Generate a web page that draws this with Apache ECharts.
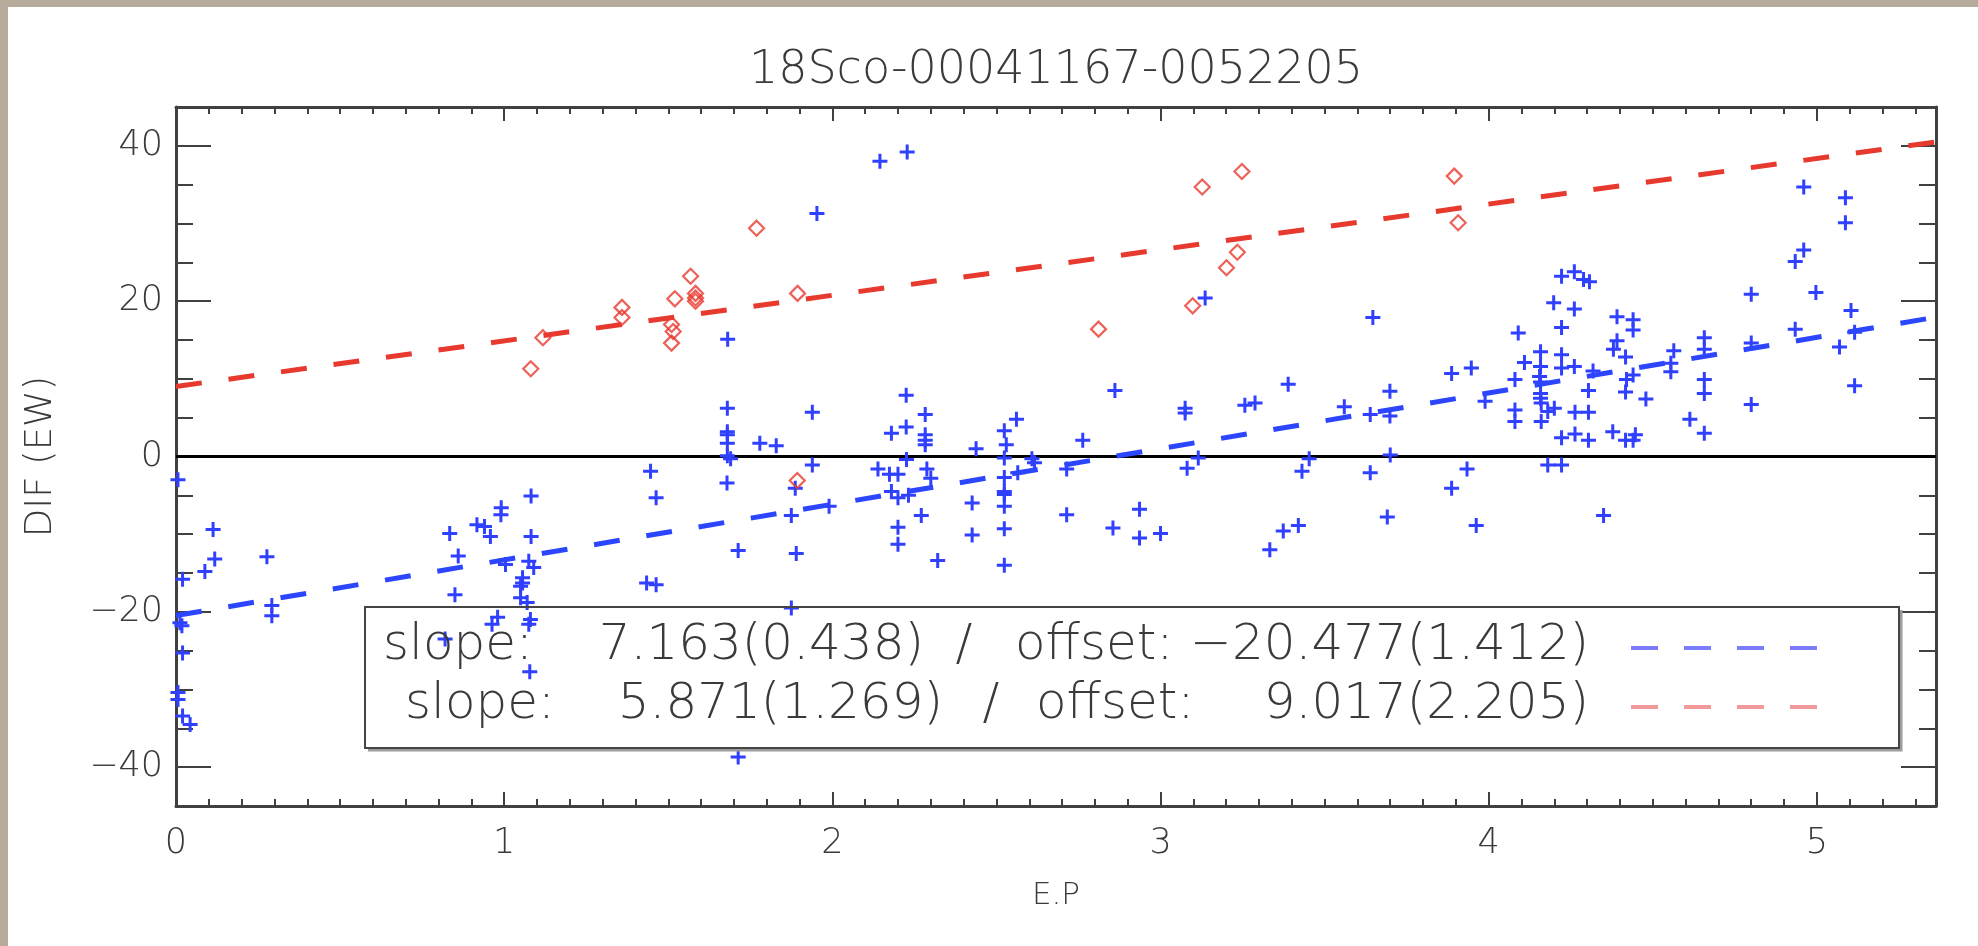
<!DOCTYPE html>
<html>
<head>
<meta charset="utf-8">
<title>18Sco-00041167-0052205</title>
<script src="https://cdn.jsdelivr.net/npm/echarts@6/dist/echarts.min.js"></script>
<style>
  html, body { margin: 0; padding: 0; width: 1978px; height: 946px; overflow: hidden; background: #b7ab9b; }
  #panel { position: absolute; left: 8px; top: 7px; right: 0; bottom: 0; background: #ffffff; }
  #chart { position: absolute; left: 0; top: 0; width: 1978px; height: 946px; }
</style>
</head>
<body>
<div id="panel"></div>
<div id="chart"></div>
<script>
// ---- data -------------------------------------------------------------
const chartTitle = '18Sco-00041167-0052205';
const xName = 'E.P';
const yName = 'DIF (EW)';

const xTicks = [0, 1, 2, 3, 4, 5];
const yTicks = [-40, -20, 0, 20, 40];

// first group (blue crosses): [E.P, DIF]
const bluePoints = [
  [0.006, -3.0], [0.113, -9.4], [0.118, -13.2], [0.088, -14.8], [0.02, -15.8],
  [0.277, -12.9], [0.292, -19.2], [0.292, -20.5], [0.012, -21.4], [0.018, -21.8],
  [0.02, -25.3], [0.006, -30.4], [0.006, -31.3], [0.02, -33.4], [0.043, -34.5],
  [0.834, -9.9], [0.86, -12.8], [0.85, -17.8], [0.82, -23.5], [0.917, -8.8],
  [0.94, -9.0], [0.958, -10.3], [0.991, -6.6], [0.99, -7.5], [1.082, -5.1],
  [1.082, -10.3], [1.004, -13.9], [1.075, -13.5], [1.09, -14.3], [1.056, -15.6],
  [1.056, -16.3], [1.05, -16.7], [1.05, -18.2], [1.07, -18.8], [0.98, -20.7],
  [0.963, -21.6], [1.08, -21.0], [1.075, -21.6], [1.078, -27.7], [1.446, -1.9],
  [1.463, -5.3], [1.434, -16.3], [1.463, -16.5], [1.679, -3.4], [1.713, -12.1],
  [1.713, -38.7],
  [1.681, 15.1], [1.68, 6.2], [1.68, 3.2], [1.68, 2.8], [1.68, 1.7], [1.68, 0.1],
  [1.69, -0.3], [1.779, 1.7],
  [2.145, 38.0], [2.228, 39.2], [1.953, 31.3], [3.136, 20.4], [2.225, 7.9],
  [1.939, 5.7], [2.283, 5.4], [2.225, 3.8], [2.18, 3.0], [2.283, 2.8], [2.283, 2.1],
  [2.283, 1.5], [1.829, 1.4], [2.438, 1.0], [2.524, 3.3], [2.53, 1.5], [2.561, 4.8],
  [2.763, 2.1], [2.861, 8.5], [3.075, 6.2], [3.075, 5.6], [3.257, 6.6], [3.288, 6.9],
  [3.389, 9.3], [3.56, 6.4],
  [1.939, -1.1], [1.887, -4.1], [1.875, -7.6], [1.89, -12.5], [1.875, -19.5],
  [1.99, -6.4], [2.139, -1.6], [2.174, -2.3], [2.2, -2.3], [2.226, -0.4],
  [2.288, -1.6], [2.30, -2.8], [2.18, -4.5], [2.2, -5.3], [2.232, -5.0],
  [2.271, -7.6], [2.2, -9.1], [2.2, -11.3], [2.321, -13.4], [2.426, -6.0],
  [2.426, -10.1], [2.524, -0.2], [2.524, -2.7], [2.524, -4.5], [2.524, -4.9],
  [2.524, -6.4], [2.524, -9.3], [2.524, -14.0], [2.565, -2.1], [2.608, -0.3],
  [2.616, -0.8], [2.714, -1.6], [2.714, -7.5], [2.855, -9.2], [2.936, -6.8],
  [2.936, -10.5], [3.0, -9.9], [3.081, -1.5], [3.115, -0.2], [3.333, -12.0],
  [3.374, -9.6], [3.42, -8.9], [3.431, -1.9], [3.453, -0.3],
  [3.639, -2.1], [3.70, 0.2], [3.691, -7.8], [3.887, -4.1], [3.934, -1.6],
  [3.962, -8.9], [4.18, -1.1], [4.222, -1.1], [4.35, -7.6],
  [4.96, 34.7], [5.087, 33.3], [5.087, 30.1], [4.96, 26.6], [4.934, 25.1],
  [4.80, 20.9], [4.997, 21.1], [5.104, 18.8], [4.934, 16.4], [5.115, 16.0],
  [5.069, 14.1], [5.115, 9.1], [4.80, 14.6], [4.80, 6.7], [4.657, 15.3],
  [4.657, 13.8], [4.657, 9.9], [4.657, 8.1], [4.657, 3.0], [4.613, 4.8],
  [4.564, 13.6], [4.555, 12.0], [4.555, 10.9], [4.479, 7.4], [4.44, 17.6],
  [4.44, 16.3], [4.391, 18.0], [4.391, 14.9], [4.38, 13.8], [4.417, 12.8],
  [4.44, 10.5], [4.42, 9.9], [4.417, 8.3], [4.378, 3.2], [4.417, 2.1],
  [4.44, 2.1], [4.447, 2.8], [4.318, 11.0], [4.304, 8.5], [4.304, 5.7],
  [4.304, 2.1], [4.263, 5.7], [4.263, 2.9], [4.222, 2.4], [4.20, 6.2],
  [4.18, 5.8], [4.222, 23.2], [4.261, 23.8], [4.289, 22.8], [4.307, 22.5],
  [4.198, 19.8], [4.261, 19.0], [4.222, 16.6], [4.222, 13.1], [4.222, 11.4],
  [4.261, 11.6], [4.158, 13.5], [4.158, 11.6], [4.155, 10.3], [4.158, 9.6],
  [4.158, 8.1], [4.158, 7.5], [4.16, 6.9], [4.16, 4.5], [4.109, 12.1],
  [4.08, 9.9], [4.08, 6.0], [4.08, 4.5], [4.09, 15.9], [3.989, 7.1],
  [3.947, 11.4], [3.887, 10.7], [3.699, 8.4], [3.699, 5.2], [3.639, 5.4],
  [3.647, 17.9]
];

// second group (red diamonds): [E.P, DIF]
const redPoints = [
  [1.081, 11.3], [1.118, 15.3], [1.359, 19.2], [1.359, 17.9], [1.51, 17.0],
  [1.515, 16.1], [1.51, 14.6], [1.52, 20.3], [1.568, 23.2], [1.583, 21.0],
  [1.583, 20.4], [1.583, 20.0], [1.769, 29.4], [1.894, 21.0], [1.893, -3.1],
  [2.811, 16.4], [3.098, 19.4], [3.127, 34.7], [3.201, 24.3], [3.234, 26.3],
  [3.248, 36.7], [3.895, 36.1], [3.907, 30.1]
];

// linear fits: [blue, red]
const fitSlopes = [7.163, 5.871];
const fitSlopeErrs = [0.438, 1.269];
const fitOffsets = [-20.477, 9.017];
const fitOffsetErrs = [1.412, 2.205];

// ---- styling ----------------------------------------------------------
const FONT = 'DejaVu Sans';
const WEIGHT = 200;
const INK = '#3a3a3a';
const FRAME = '#404040';
const BLUE = '#3040ff';
const BLUE_FIT = '#2c46ff';
const RED = '#e8392e';
const X_MIN = 0, X_MAX = 5.363, Y_MIN = -45, Y_MAX = 45;
const CROSS = 'path://M6,0H9V6H15V9H9V15H6V9H0V6H6Z';

const minusFmt = v => (v < 0 ? '\u2212' + Math.abs(v) : String(v));

function fitLine(i) {
  return [[X_MIN, fitOffsets[i] + fitSlopes[i] * X_MIN],
          [X_MAX, fitOffsets[i] + fitSlopes[i] * X_MAX]];
}

function xAxisDef(position, major) {
  return {
    type: 'value', min: X_MIN, max: X_MAX, position: position,
    interval: major ? undefined : 0.1,
    axisLine: { show: major, onZero: false, lineStyle: { color: FRAME, width: 3 } },
    axisTick: major
      ? { show: true, inside: true, length: 14, customValues: xTicks, lineStyle: { color: FRAME, width: 2 } }
      : { show: true, inside: true, length: 7, lineStyle: { color: FRAME, width: 2 } },
    axisLabel: (major && position === 'bottom')
      ? { show: true, customValues: xTicks, formatter: v => String(v), fontFamily: FONT, fontWeight: WEIGHT, fontSize: 35, color: INK, margin: 20 }
      : { show: false },
    splitLine: { show: false },
    name: (major && position === 'bottom') ? xName : '',
    nameLocation: 'middle', nameGap: 74,
    nameTextStyle: { fontFamily: FONT, fontWeight: WEIGHT, fontSize: 31, color: INK }
  };
}

function yAxisDef(position, major) {
  return {
    type: 'value', min: Y_MIN, max: Y_MAX, position: position,
    interval: major ? undefined : 5,
    axisLine: { show: major, onZero: false, lineStyle: { color: FRAME, width: 3 } },
    axisTick: major
      ? { show: true, inside: true, length: 35, customValues: yTicks, lineStyle: { color: FRAME, width: 2 } }
      : { show: true, inside: true, length: 17, lineStyle: { color: FRAME, width: 2 } },
    axisLabel: (major && position === 'left')
      ? { show: true, customValues: yTicks, formatter: minusFmt, fontFamily: FONT, fontWeight: WEIGHT, fontSize: 35, color: INK, margin: 13 }
      : { show: false },
    splitLine: { show: false },
    name: (major && position === 'left') ? yName : '',
    nameLocation: 'middle', nameRotate: 90, nameGap: 116,
    nameTextStyle: { fontFamily: FONT, fontWeight: WEIGHT, fontSize: 37, color: INK }
  };
}

// ---- legend box -------------------------------------------------------
const LEG_FONT = WEIGHT + ' 50px "DejaVu Sans"';
const legendRows = [
  { y: 646, slopeX: 383, valEnd: 924, slashX: 964, offX: 1015, offEnd: 1589, dash: '#7c7cff' },
  { y: 705, slopeX: 405, valEnd: 943, slashX: 991, offX: 1036, offEnd: 1589, dash: '#f09a9a' }
];

function legendGraphics() {
  const g = [
    { type: 'polyline', silent: true, z: 10,
      shape: { points: [[368, 750], [1901, 750], [1901, 610]] },
      style: { stroke: '#9c9c9c', lineWidth: 3, fill: 'none' } },
    { type: 'rect', silent: true, z: 11,
      shape: { x: 365, y: 607, width: 1534, height: 141 },
      style: { stroke: '#454545', lineWidth: 2, fill: 'none' } }
  ];
  legendRows.forEach((r, i) => {
    const valTxt = fitSlopes[i].toFixed(3) + '(' + fitSlopeErrs[i].toFixed(3) + ')';
    const off = fitOffsets[i];
    const offTxt = (off < 0 ? '\u2212' : '') + Math.abs(off).toFixed(3) + '(' + fitOffsetErrs[i].toFixed(3) + ')';
    const t = (x, y, text, align) => ({
      type: 'text', silent: true, z: 12, x: x, y: y,
      style: { text: text, font: LEG_FONT, fill: INK, align: align, verticalAlign: 'middle' }
    });
    g.push(t(r.slopeX, r.y, 'slope:', 'left'));
    g.push(t(r.valEnd, r.y, valTxt, 'right'));
    g.push(t(r.slashX, r.y, '/', 'center'));
    g.push(t(r.offX, r.y, 'offset:', 'left'));
    g.push(t(r.offEnd, r.y, offTxt, 'right'));
    g.push({ type: 'line', silent: true, z: 12,
      shape: { x1: 1631, y1: r.y + 2, x2: 1819, y2: r.y + 2 },
      style: { stroke: r.dash, lineWidth: 4, lineDash: [27, 26] } });
  });
  return g;
}

// ---- chart ------------------------------------------------------------
const chart = echarts.init(document.getElementById('chart'), null, { renderer: 'canvas' });

chart.setOption({
  animation: false,
  backgroundColor: 'transparent',
  grid: { left: 176, top: 107, right: 42, bottom: 140, containLabel: false, outerBoundsMode: 'none' },
  xAxis: [xAxisDef('bottom', true), xAxisDef('bottom', false), xAxisDef('top', true), xAxisDef('top', false)],
  yAxis: [yAxisDef('left', true), yAxisDef('left', false), yAxisDef('right', true), yAxisDef('right', false)],
  graphic: [
    { type: 'text', silent: true, x: 1056, y: 71,
      style: { text: chartTitle, font: WEIGHT + ' 46px "DejaVu Sans"', fill: INK, align: 'center', verticalAlign: 'middle' } }
  ].concat(legendGraphics()),
  series: [
    {
      name: 'zero', type: 'line', xAxisIndex: 0, yAxisIndex: 0,
      data: [[X_MIN, 0], [X_MAX, 0]], symbol: 'none', silent: true, z: 2,
      lineStyle: { color: '#000000', width: 3 }
    },
    {
      name: 'group 1', type: 'scatter', xAxisIndex: 0, yAxisIndex: 0,
      data: bluePoints, symbol: CROSS, symbolSize: 15, z: 3,
      itemStyle: { color: BLUE, opacity: 1 }
    },
    {
      name: 'group 2', type: 'scatter', xAxisIndex: 0, yAxisIndex: 0,
      data: redPoints, symbol: 'diamond', symbolSize: 15, z: 3,
      itemStyle: { color: 'rgba(0,0,0,0)', borderColor: RED, borderWidth: 2.2 }
    },
    {
      name: 'fit 1', type: 'line', xAxisIndex: 0, yAxisIndex: 0,
      data: fitLine(0), symbol: 'none', silent: true, z: 4,
      lineStyle: { color: BLUE_FIT, width: 5, type: [26, 27] }
    },
    {
      name: 'fit 2', type: 'line', xAxisIndex: 0, yAxisIndex: 0,
      data: fitLine(1), symbol: 'none', silent: true, z: 4,
      lineStyle: { color: RED, width: 5, type: [26, 27] }
    }
  ]
});
</script>
</body>
</html>
